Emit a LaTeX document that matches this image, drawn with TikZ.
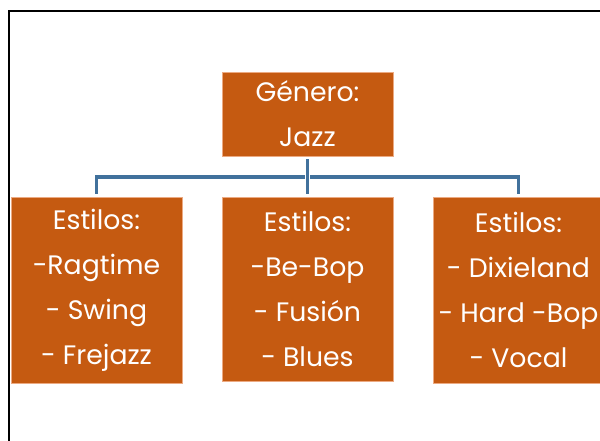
\documentclass[tikz,border=0pt]{standalone}
\usepackage{fontspec}
\setmainfont{Poppins}
\usepackage{tikz}
\usetikzlibrary{positioning}
\definecolor{color1}{RGB}{197,90,17}
\definecolor{color2}{RGB}{65,113,156}
\definecolor{color3}{RGB}{236,170,130}

\begin{document}
\begin{tikzpicture}[x=0.025cm,y=-0.025cm]
\tikzset{caja/.style={rectangle,draw=color3,line width=0.4pt,fill=color1,text=white,
  minimum width=4.275cm,minimum height=#1,align=center,inner sep=0pt,
  font=\fontsize{19}{32}\selectfont},
  rama/.style={draw=color2,line width=2.2pt,shorten <=2pt,shorten >=2pt}}
\useasboundingbox (0,0) rectangle (600,441);
\clip (0,0) rectangle (600,441);
% Marco
\draw[line width=1.7pt] (9,11) rectangle (640,480);
% Nodos
\node [caja=2.1cm] (genero) at (307.5,114) {Género:\\Jazz};
\node [caja=4.65cm] (estilosA) at (96.5,290.5) {Estilos:\\-Ragtime\\- Swing\\- Frejazz};
\node [caja=4.6cm] (estilosB) at (307.5,289) {Estilos:\\-Be-Bop\\- Fusión\\- Blues};
\node [caja=4.65cm] (estilosC) at (518.5,290) {Estilos:\\- Dixieland\\- Hard -Bop\\- Vocal};
% Lineas
\coordinate (bus) at (307.5,177);
\draw[rama] (genero.south) -- (bus) -- (estilosB.north);
\draw[rama] (bus) -| (estilosA.north);
\draw[rama] (bus) -| (estilosC.north);
\end{tikzpicture}
\end{document}
